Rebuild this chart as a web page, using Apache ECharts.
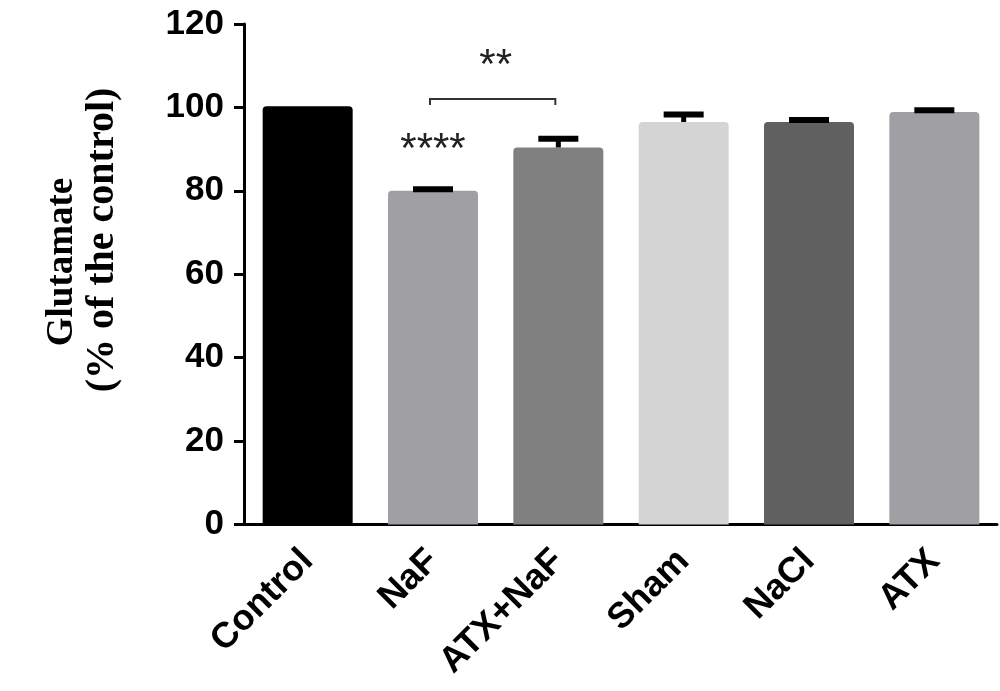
<!DOCTYPE html>
<html>
<head>
<meta charset="utf-8">
<script src="https://cdn.jsdelivr.net/npm/echarts@6/dist/echarts.min.js"></script>
<style>
html,body{margin:0;padding:0;background:#fff;}
#chart{width:1000px;height:691px;}
</style>
</head>
<body>
<div id="chart"></div>
<script>
var categories = ['Control', 'NaF', 'ATX+NaF', 'Sham', 'NaCl', 'ATX'];
var values = [100.3, 80.0, 90.4, 96.5, 96.5, 98.9];
var errors = [0, 0.4, 2.1, 1.8, 0.5, 0.4];
var barColors = ['#000000', '#a0a0a4', '#808080', '#d4d4d4', '#606060', '#a0a0a4'];
var yTicks = [0, 20, 40, 60, 80, 100, 120];
var bracket = {from: 1, to: 2, top: 102, drop: 100.6};
var stars = [
  {text: '****', from: 1, to: 1, y: 89.8},
  {text: '**', from: 1, to: 2, y: 109.8}
];
var yTitleLine1 = 'Glutamate';
var yTitleLine2 = '(% of the control)';

var chart = echarts.init(document.getElementById('chart'));

var errData = values.map(function (v, i) { return [i, v, errors[i]]; });

var option = {
  animation: false,
  backgroundColor: '#ffffff',
  grid: {left: 245, right: 3, top: 24, bottom: 166.5, containLabel: false},
  graphic: [{
    type: 'text',
    x: 62, y: 262,
    rotation: Math.PI / 2,
    style: {
      text: yTitleLine1,
      fill: '#000',
      font: 'bold 37px Liberation Serif, Times New Roman, serif',
      align: 'center', verticalAlign: 'middle'
    }
  }, {
    type: 'text',
    x: 103, y: 240,
    rotation: Math.PI / 2,
    style: {
      text: yTitleLine2,
      fill: '#000',
      font: 'bold 40px Liberation Serif, Times New Roman, serif',
      align: 'center', verticalAlign: 'middle'
    }
  }],
  xAxis: {
    type: 'category',
    data: categories,
    axisLine: {lineStyle: {color: '#000', width: 3}},
    axisTick: {alignWithLabel: true, length: 12, lineStyle: {color: '#000', width: 3}},
    axisLabel: {
      rotate: 45, margin: 31, color: '#000',
      fontFamily: 'Liberation Sans, Arial, sans-serif', fontWeight: 'bold', fontSize: 36
    }
  },
  yAxis: {
    type: 'value',
    min: 0, max: 120, interval: 20,
    offset: 1,
    axisLine: {show: true, lineStyle: {color: '#000', width: 3}},
    axisTick: {show: true, length: 10, lineStyle: {color: '#000', width: 3}},
    splitLine: {show: false},
    axisLabel: {
      margin: 20, color: '#000',
      fontFamily: 'Liberation Sans, Arial, sans-serif', fontWeight: 'bold', fontSize: 35,
      formatter: function (v) { return yTicks.indexOf(v) >= 0 ? String(v) : ''; }
    }
  },
  series: [
    {
      type: 'bar',
      barWidth: 90,
      data: values.map(function (v, i) {
        return {value: v, itemStyle: {color: barColors[i], borderRadius: [4, 4, 0, 0]}};
      }),
      z: 2
    },
    {
      type: 'custom',
      data: errData,
      z: 3,
      renderItem: function (params, api) {
        var i = api.value(0), v = api.value(1), e = api.value(2);
        if (!(e > 0)) { return null; }
        var base = api.coord([i, v]);
        var top = api.coord([i, v + e]);
        var capW = 40, capH = 6, stemW = 5;
        return {
          type: 'group',
          children: [
            {type: 'rect', shape: {x: base[0] - stemW / 2, y: top[1], width: stemW, height: Math.max(0, base[1] - top[1])}, style: {fill: '#000'}},
            {type: 'rect', shape: {x: top[0] - capW / 2, y: top[1] - capH / 2, width: capW, height: capH}, style: {fill: '#000'}}
          ]
        };
      }
    },
    {
      type: 'custom',
      data: [[bracket.from, bracket.to, bracket.top, bracket.drop]],
      z: 4,
      renderItem: function (params, api) {
        var a = api.coord([api.value(0), api.value(2)]);
        var b = api.coord([api.value(1), api.value(2)]);
        var a0 = api.coord([api.value(0), api.value(3)]);
        var b0 = api.coord([api.value(1), api.value(3)]);
        return {
          type: 'polyline',
          shape: {points: [[a0[0] - 3, a0[1]], [a[0] - 3, a[1]], [b[0] - 3, b[1]], [b0[0] - 3, b0[1]]]},
          style: {stroke: '#333', lineWidth: 2, fill: null}
        };
      }
    },
    {
      type: 'custom',
      data: stars.map(function (s) { return [s.from, s.to, s.y]; }),
      z: 5,
      renderItem: function (params, api) {
        var p1 = api.coord([api.value(0), api.value(2)]);
        var p2 = api.coord([api.value(1), api.value(2)]);
        return {
          type: 'text',
          x: (p1[0] + p2[0]) / 2, y: p1[1],
          style: {
            text: stars[params.dataIndex].text,
            fill: '#222',
            font: '42px Liberation Sans, Arial, sans-serif',
            align: 'center', verticalAlign: 'middle'
          }
        };
      }
    }
  ]
};
chart.setOption(option);
</script>
</body>
</html>
